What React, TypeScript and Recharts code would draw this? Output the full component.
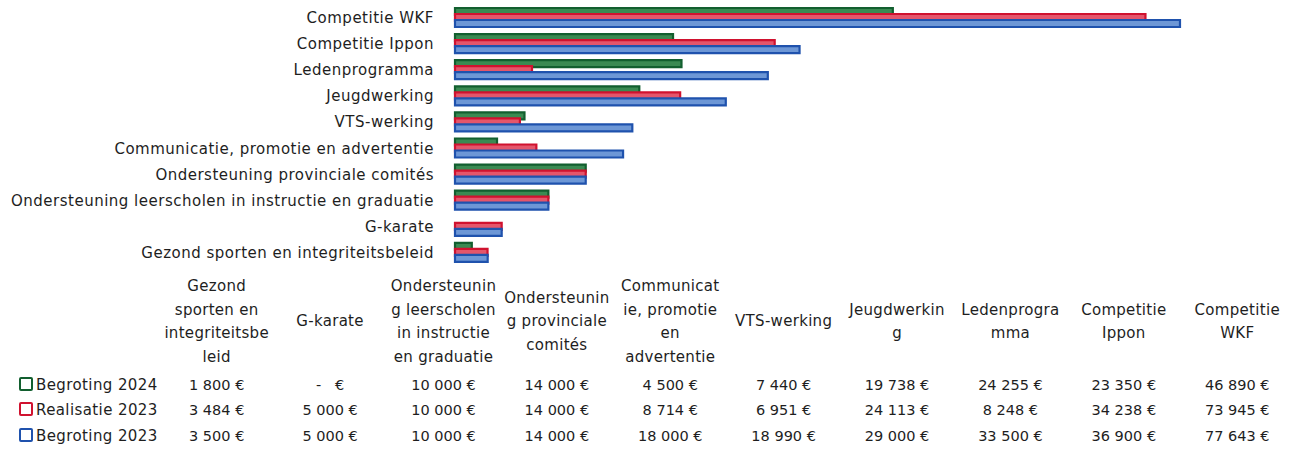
import { BarChart, Bar, XAxis, YAxis } from 'recharts';

// categories in table order (bottom of chart first)
const categories = [
  'Gezond sporten en integriteitsbeleid',
  'G-karate',
  'Ondersteuning leerscholen in instructie en graduatie',
  'Ondersteuning provinciale comités',
  'Communicatie, promotie en advertentie',
  'VTS-werking',
  'Jeugdwerking',
  'Ledenprogramma',
  'Competitie Ippon',
  'Competitie WKF',
];

// how the data table wraps each header
const headerLines = [
  ['Gezond', 'sporten en', 'integriteitsbe', 'leid'],
  ['G-karate'],
  ['Ondersteunin', 'g leerscholen', 'in instructie', 'en graduatie'],
  ['Ondersteunin', 'g provinciale', 'comités'],
  ['Communicat', 'ie, promotie', 'en', 'advertentie'],
  ['VTS-werking'],
  ['Jeugdwerkin', 'g'],
  ['Ledenprogra', 'mma'],
  ['Competitie', 'Ippon'],
  ['Competitie', 'WKF'],
];

const begroting2024 = [1800, 0, 10000, 14000, 4500, 7440, 19738, 24255, 23350, 46890];
const realisatie2023 = [3484, 5000, 10000, 14000, 8714, 6951, 24113, 8248, 34238, 73945];
const begroting2023 = [3500, 5000, 10000, 14000, 18000, 18990, 29000, 33500, 36900, 77643];

const series = [
  { key: 'b2024', name: 'Begroting 2024', values: begroting2024, stroke: '#125f2f', fill: '#3a8a52' },
  { key: 'r2023', name: 'Realisatie 2023', values: realisatie2023, stroke: '#d0122f', fill: '#e4566b' },
  { key: 'b2023', name: 'Begroting 2023', values: begroting2023, stroke: '#1f52ad', fill: '#6d97d6' },
];

const FONT = '"DejaVu Sans", "Open Sans", sans-serif';

// chart draws WKF on top, so reverse
const chartData = categories
  .map((name, i) => ({
    name,
    b2024: begroting2024[i],
    r2023: realisatie2023[i],
    b2023: begroting2023[i],
  }))
  .reverse();

const fmt = (v: number) =>
  v === 0 ? '-\u00a0\u00a0\u00a0€' : String(v).replace(/\B(?=(\d{3})+(?!\d))/g, '\u00a0') + '\u00a0€';

const CategoryTick = ({ x, y, payload }: { x?: number; y?: number; payload?: { value: string } }) => (
  <text
    x={(x ?? 0) - 13}
    y={y}
    dy={6}
    textAnchor="end"
    fontSize={15}
    letterSpacing={0.5}
    fill="#1e1e1e"
    fontFamily={FONT}
  >
    {payload?.value}
  </text>
);

export default function App() {
  return (
    <div style={{ position: 'absolute', left: 0, top: 0, width: 1294, height: 457, background: '#fff', fontFamily: FONT }}>
      <BarChart
        width={1294}
        height={268}
        data={chartData}
        layout="vertical"
        margin={{ top: 4, right: 92, bottom: 3, left: 0 }}
        barSize={7}
        barGap={-1}
      >
        <XAxis type="number" domain={[0, 80000]} hide />
        <YAxis
          type="category"
          dataKey="name"
          width={455}
          axisLine={false}
          tickLine={false}
          tick={<CategoryTick />}
          interval={0}
        />
        {series.map((s) => (
          <Bar
            key={s.key}
            dataKey={s.key}
            name={s.name}
            fill={s.fill}
            stroke={s.stroke}
            strokeWidth={2.2}
            isAnimationActive={false}
          />
        ))}
      </BarChart>

      <table
        style={{
          position: 'absolute',
          left: 0,
          top: 272,
          borderCollapse: 'collapse',
          tableLayout: 'fixed',
          width: 1294,
          fontSize: 14.5,
          color: '#1e1e1e',
        }}
      >
        <colgroup>
          <col style={{ width: 160 }} />
          {categories.map((c) => (
            <col key={c} style={{ width: 113.4 }} />
          ))}
        </colgroup>
        <tbody>
          <tr style={{ height: 100 }}>
            <td />
            {headerLines.map((lines, i) => (
              <td
                key={i}
                style={{
                  textAlign: 'center',
                  lineHeight: '23.5px',
                  padding: 0,
                  verticalAlign: 'middle',
                  whiteSpace: 'nowrap',
                  fontSize: 15,
                  letterSpacing: 0.3,
                }}
              >
                {lines.map((l, j) => (
                  <div key={j}>{l}</div>
                ))}
              </td>
            ))}
          </tr>
          {series.map((s) => (
            <tr key={s.key} style={{ height: 25.5 }}>
              <td style={{ padding: 0, paddingLeft: 19, whiteSpace: 'nowrap', fontSize: 15, letterSpacing: 0.4 }}>
                <span
                  style={{
                    display: 'inline-block',
                    width: 10,
                    height: 10,
                    border: `2.5px solid ${s.stroke}`,
                    borderRadius: 2,
                    marginRight: 3,
                    verticalAlign: '-1px',
                  }}
                />
                {s.name}
              </td>
              {s.values.map((v, i) => (
                <td key={i} style={{ textAlign: 'center', padding: 0, whiteSpace: 'nowrap' }}>
                  {fmt(v)}
                </td>
              ))}
            </tr>
          ))}
        </tbody>
      </table>
    </div>
  );
}
